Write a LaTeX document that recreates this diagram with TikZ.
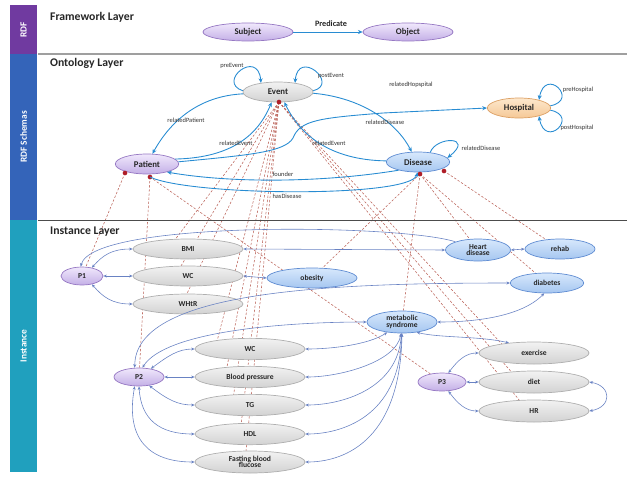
\documentclass[tikz,border=0pt]{standalone}
\usepackage{fontspec}
\setmainfont{Carlito}
\usetikzlibrary{shapes.geometric,arrows.meta,backgrounds}
\definecolor{sbpurple}{RGB}{112,58,160}
\definecolor{sbblue}{RGB}{52,100,185}
\definecolor{sbteal}{RGB}{32,160,190}
\definecolor{ontblue}{RGB}{40,140,210}
\definecolor{instblue}{RGB}{105,130,195}
\definecolor{dashred}{RGB}{185,95,85}
\definecolor{dotred}{RGB}{175,30,40}
\definecolor{pdraw}{RGB}{150,120,195}
\definecolor{ptop}{RGB}{240,232,252}
\definecolor{pbot}{RGB}{195,175,230}
\definecolor{gdraw}{RGB}{175,175,175}
\definecolor{gtop}{RGB}{242,242,242}
\definecolor{gbot}{RGB}{210,210,210}
\definecolor{bdraw}{RGB}{95,140,210}
\definecolor{btop}{RGB}{215,232,252}
\definecolor{bbot}{RGB}{165,198,240}
\definecolor{odraw}{RGB}{220,160,100}
\definecolor{otop}{RGB}{253,232,205}
\definecolor{obot}{RGB}{245,200,150}
\tikzset{
  base/.style={ellipse, inner sep=0pt, font=\bfseries\fontsize{7.5}{8}\selectfont, text=black!85, line width=0.6pt, align=center},
  pnode/.style={base, draw=pdraw, top color=ptop, bottom color=pbot},
  gnode/.style={base, draw=gdraw, top color=gtop, bottom color=gbot},
  bnode/.style={base, draw=bdraw, top color=btop, bottom color=bbot},
  onode/.style={base, draw=odraw, top color=otop, bottom color=obot},
  elab/.style={font=\fontsize{5.5}{6}\selectfont, text=black!80, inner sep=1pt},
  ltitle/.style={anchor=west, font=\bfseries\fontsize{10}{12}\selectfont, text=black!85},
  sbtext/.style={rotate=90, text=white, font=\bfseries\fontsize{8}{9}\selectfont},
  ont/.style={draw=ontblue, line width=0.75pt, -{Stealth[length=4pt,width=3.5pt]}},
  inst/.style={draw=instblue, line width=0.5pt, {Stealth[length=3pt,width=2.5pt]}-{Stealth[length=3pt,width=2.5pt]}},
  instone/.style={draw=instblue, line width=0.5pt, -{Stealth[length=3pt,width=2.5pt]}},
  dsh/.style={draw=dashred, line width=0.45pt, dash pattern=on 2pt off 1.5pt},
}
\begin{document}
\begin{tikzpicture}[x=0.03cm,y=-0.03cm]
\useasboundingbox (0,0) rectangle (627,477);
% sidebar
\fill[sbpurple] (10,5) rectangle (37,54);
\fill[sbblue] (10,54) rectangle (37,220);
\fill[sbteal] (10,220) rectangle (37,472);
\node[sbtext] (sbrdf) at (23.5,30) {RDF};
\node[sbtext] (sbschema) at (23.5,137) {RDF Schemas};
\node[sbtext] (sbinst) at (23.5,346) {Instance};
% separators
\draw[gray!75, line width=1.4pt] (38,54) -- (627,54);
\draw[black!70, line width=0.6pt] (38,220) -- (627,220);
\node[ltitle] (t1) at (46,17) {Framework Layer};
\node[ltitle] (t2) at (46,63) {Ontology Layer};
\node[ltitle] (t3) at (46,232) {Instance Layer};

% framework nodes
\node[pnode, minimum width=2.7cm, minimum height=0.54cm] (subj) at (248,32) {Subject};
\node[pnode, minimum width=2.7cm, minimum height=0.54cm] (obj) at (408,32) {Object};

% ontology nodes
\node[gnode, minimum width=2.1cm, minimum height=0.6cm] (event) at (278,92) {Event};
\node[onode, minimum width=1.9cm, minimum height=0.6cm] (hosp) at (519,108) {Hospital};
\node[pnode, minimum width=1.9cm, minimum height=0.6cm] (patient) at (147,164) {Patient};
\node[bnode, minimum width=1.9cm, minimum height=0.6cm] (disease) at (418,162) {Disease};

% instance nodes
\tikzset{ifont/.style={font=\bfseries\fontsize{6.5}{6.5}\selectfont}}
\node[pnode, ifont, minimum width=1.26cm, minimum height=0.54cm] (p1) at (82,276) {P1};
\node[gnode, ifont, minimum width=3.3cm, minimum height=0.6cm] (bmi) at (188,249) {BMI};
\node[gnode, ifont, minimum width=3.3cm, minimum height=0.6cm] (wc) at (188,276) {WC};
\node[gnode, ifont, minimum width=3.3cm, minimum height=0.6cm] (whtr) at (188,304) {WHtR};
\node[bnode, ifont, minimum width=2.7cm, minimum height=0.6cm] (obes) at (312,278) {obesity};
\node[bnode, ifont, minimum width=1.95cm, minimum height=0.66cm] (heart) at (478,250) {Heart\\[-1pt]disease};
\node[bnode, ifont, minimum width=2.1cm, minimum height=0.6cm] (rehab) at (560,249) {rehab};
\node[bnode, ifont, minimum width=2.2cm, minimum height=0.6cm] (diab) at (547,283) {diabetes};
\node[bnode, ifont, minimum width=2.1cm, minimum height=0.66cm] (meta) at (402,322) {metabolic\\[-1pt]syndrome};
\node[pnode, ifont, minimum width=1.5cm, minimum height=0.54cm] (p2) at (139,377) {P2};
\node[gnode, ifont, minimum width=3.3cm, minimum height=0.64cm] (wcb) at (250,349) {WC};
\node[gnode, ifont, minimum width=3.3cm, minimum height=0.64cm] (bp) at (250,377) {Blood pressure};
\node[gnode, ifont, minimum width=3.3cm, minimum height=0.64cm] (tg) at (250,405) {TG};
\node[gnode, ifont, minimum width=3.3cm, minimum height=0.64cm] (hdl) at (250,434) {HDL};
\node[gnode, ifont, minimum width=3.3cm, minimum height=0.66cm] (fbg) at (250,462) {Fasting blood\\[-1pt]flucose};
\node[pnode, ifont, minimum width=1.44cm, minimum height=0.54cm] (p3) at (442,382) {P3};
\node[gnode, ifont, minimum width=3.3cm, minimum height=0.66cm] (exer) at (534,353) {exercise};
\node[gnode, ifont, minimum width=3.3cm, minimum height=0.66cm] (diet) at (534,382) {diet};
\node[gnode, ifont, minimum width=3.3cm, minimum height=0.66cm] (hr) at (534,411) {HR};

% dot coordinates
\coordinate (ed) at (279,102);
\coordinate (pd1) at (125,173);
\coordinate (pd2) at (150,177);
\coordinate (dd) at (420,174);
\coordinate (dd2) at (444,171);

\begin{pgfonlayer}{background}
\foreach \n/\px/\py in {bmi/168/249, wc/175/276, whtr/182/304, wcb/215/349, bp/225/377, tg/232/405, hdl/240/434, fbg/245/462, exer/510/353, diet/520/382, hr/528/411}
  \draw[dsh] (ed) -- (\px,\py);
\draw[dsh] (pd1) -- (p1);
\draw[dsh] (pd2) -- (p2);
\draw[dsh] (pd2) -- (p3);
\draw[dsh] (dd) -- (obes);
\draw[dsh] (dd) -- (meta);
\draw[dsh] (dd) -- (heart);
\draw[dsh] (dd) -- (diab);
\draw[dsh] (dd2) -- (rehab);
\end{pgfonlayer}
\foreach \c in {ed,pd1,pd2,dd,dd2} \fill[dotred] (\c) circle (2pt);

% framework connector
\draw[ont] (subj) -- (obj);
\node[font=\bfseries\fontsize{7}{8}\selectfont, text=black!85] (pred) at (331,24) {Predicate};

% ontology connectors
\draw[ont] (event.178) .. controls (216,82) and (258,48) .. (event.152);
\draw[ont] (event.2) .. controls (340,84) and (298,48) .. (event.28);
\draw[ont] (event.183) .. controls (198,96) and (170,122) .. (patient.62);
\draw[ont] (patient.10) .. controls (225,158) and (256,140) .. (event.238);
\draw[ont] (event.358) .. controls (365,98) and (398,125) .. (disease.122);
\draw[ont] (disease.178) .. controls (330,160) and (300,135) .. (event.302);
\draw[ont] (patient.4) .. controls (250,155) and (285,152) .. (293,138) .. controls (300,120) and (320,118) .. (383,113) -- (hosp.west);
\draw[ont] (disease.203) .. controls (320,183) and (230,183) .. (patient.-22);
\draw[ont] (pd2) .. controls (190,196) and (410,198) .. (disease.-92);
\draw[ont] (disease.38) .. controls (436,136) and (475,136) .. (disease.8);
\draw[ont] (hosp.4) .. controls (580,100) and (545,66) .. (hosp.22);
\draw[ont] (hosp.-4) .. controls (580,116) and (545,150) .. (hosp.-22);

% ontology labels
\node[elab] (lpre) at (232,66) {preEvent};
\node[elab] (lpost) at (331,76) {postEvent};
\node[elab] (lrhos) at (411,85) {relatedHopspital};
\node[elab] (lpreh) at (578,90) {preHospital};
\node[elab] (lposth) at (577,128) {postHospital};
\node[elab] (lrpat) at (186,120) {relatedPatient};
\node[elab] (lrev1) at (236,143) {relatedEvent};
\node[elab] (lrev2) at (329,143) {relatedEvent};
\node[elab] (lrdis1) at (385,122) {relatedDisease};
\node[elab] (lrdis2) at (481,148) {relatedDisease};
\node[elab] (lfound) at (283,174) {founder};
\node[elab] (lhas) at (287,196) {hasDisease};

% instance connectors
\draw[inst] (p1.east) -- (wc.west);
\draw[inst] (p1.40) .. controls (103,255) and (112,249) .. (bmi.west);
\draw[inst] (p1.-40) .. controls (103,297) and (112,304) .. (whtr.west);
\draw[inst] (bmi.east) -- (heart.west);
\draw[instone] (heart.160) .. controls (400,224) and (92,220) .. (p1.98);
\draw[inst] (wc.east) -- (obes.west);
\draw[inst] (heart.east) -- (rehab.west);
\draw[inst] (diab.west) .. controls (320,283) and (135,292) .. (p2.115);
\draw[inst] (diab.-105) .. controls (520,318) and (470,322) .. (meta.east);
\draw[inst] (meta.west) .. controls (280,322) and (165,332) .. (p2.70);
\draw[inst] (p2.35) .. controls (168,356) and (178,349) .. (wcb.west);
\draw[inst] (p2.east) -- (bp.west);
\draw[inst] (p2.-40) .. controls (168,400) and (178,405) .. (tg.west);
\draw[inst] (p2.-90) .. controls (141,420) and (160,434) .. (hdl.west);
\draw[inst] (p2.-115) .. controls (125,440) and (150,462) .. (fbg.west);
\draw[inst] (meta.-145) .. controls (368,345) and (330,349) .. (wcb.east);
\draw[inst] (meta.-95) .. controls (396,362) and (340,377) .. (bp.east);
\draw[inst] (meta.-93) .. controls (398,390) and (340,405) .. (tg.east);
\draw[inst] (meta.-92) .. controls (400,418) and (340,434) .. (hdl.east);
\draw[inst] (meta.-90) .. controls (400,445) and (340,462) .. (fbg.east);
\draw[inst] (meta.-35) .. controls (440,338) and (480,336) .. (exer.158);
\draw[inst] (p3.east) -- (diet.west);
\draw[inst] (p3.55) .. controls (458,360) and (466,353) .. (exer.west);
\draw[inst] (p3.-55) .. controls (458,404) and (466,411) .. (hr.west);
\draw[inst] (diet.east) .. controls (612,386) and (612,407) .. (hr.east);
\end{tikzpicture}
\end{document}
